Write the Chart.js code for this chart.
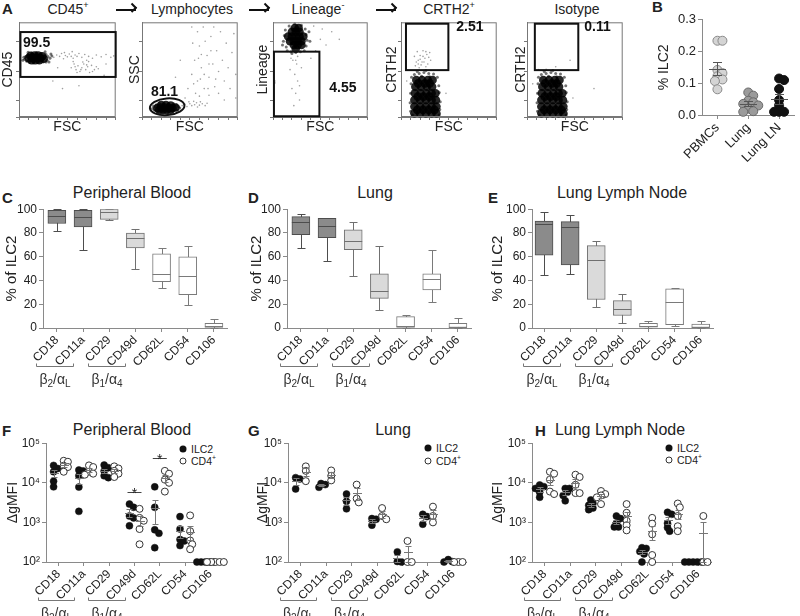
<!DOCTYPE html>
<html>
<head>
<meta charset="utf-8">
<script src="https://cdn.jsdelivr.net/npm/chart.js@4.4.1/dist/chart.umd.min.js"></script>
<style>
body { margin: 0; background: #fff; }
#fig { position: relative; width: 800px; height: 616px; overflow: hidden; font-family: "Liberation Sans", Arial, sans-serif; color: #222; }
#fig canvas { position: absolute; }
.t { position: absolute; transform: translate(-50%, -50%); white-space: nowrap; line-height: 1; }
.lt { position: absolute; transform: translate(0, -50%); font-weight: bold; font-size: 15px; line-height: 1; }
.lg { position: absolute; transform: translate(0, -50%); font-size: 10.5px; line-height: 1; white-space: nowrap; }
.dot { position: absolute; width: 7px; height: 7px; border-radius: 50%; transform: translate(-50%, -50%); box-sizing: border-box; }
.arr { position: absolute; width: 20px; height: 2px; background: #111; transform: translate(-50%, -50%); }
.arr::after { content: ""; position: absolute; right: 0; top: -4px; width: 7px; height: 7px; border-top: 2px solid #111; border-right: 2px solid #111; transform: rotate(45deg); transform-origin: 60% 40%; box-sizing: border-box; }
sup { font-size: 65%; line-height: 0; vertical-align: super; }
</style>
</head>
<body>
<div id="fig">
  <div class="lt" style="left:2px;top:8px">A</div>
  <div class="lt" style="left:652px;top:6px">B</div>
  <div class="lt" style="left:2px;top:197px">C</div>
  <div class="lt" style="left:248px;top:197px">D</div>
  <div class="lt" style="left:488px;top:197px">E</div>
  <div class="lt" style="left:2px;top:430px">F</div>
  <div class="lt" style="left:248px;top:430px">G</div>
  <div class="lt" style="left:535px;top:430px">H</div>

  <div class="t" style="left:68px;top:9px;font-size:14px">CD45<sup>+</sup></div>
  <div class="t" style="left:192px;top:9px;font-size:14px">Lymphocytes</div>
  <div class="t" style="left:318px;top:9px;font-size:14px">Lineage<sup>-</sup></div>
  <div class="t" style="left:449px;top:9px;font-size:14px">CRTH2<sup>+</sup></div>
  <div class="t" style="left:577px;top:9px;font-size:14px">Isotype</div>
  <div class="arr" style="left:126px;top:10px"></div>
  <div class="arr" style="left:259px;top:10px"></div>
  <div class="arr" style="left:386px;top:10px"></div>

  <div class="t" style="left:132px;top:193px;font-size:16px">Peripheral Blood</div>
  <div class="t" style="left:375px;top:193px;font-size:16px">Lung</div>
  <div class="t" style="left:622px;top:193px;font-size:16px">Lung Lymph Node</div>
  <div class="t" style="left:132px;top:430px;font-size:16px">Peripheral Blood</div>
  <div class="t" style="left:393px;top:430px;font-size:16px">Lung</div>
  <div class="t" style="left:620px;top:430px;font-size:16px">Lung Lymph Node</div>

  <div class="dot" style="left:183px;top:449px;background:#111"></div>
  <div class="lg" style="left:191px;top:449px">ILC2</div>
  <div class="dot" style="left:183px;top:461px;border:1px solid #333;background:#fff"></div>
  <div class="lg" style="left:191px;top:461px">CD4<sup>+</sup></div>
  <div class="dot" style="left:428px;top:448px;background:#111"></div>
  <div class="lg" style="left:436px;top:448px">ILC2</div>
  <div class="dot" style="left:428px;top:461px;border:1px solid #333;background:#fff"></div>
  <div class="lg" style="left:436px;top:461px">CD4<sup>+</sup></div>
  <div class="dot" style="left:669px;top:448px;background:#111"></div>
  <div class="lg" style="left:677px;top:448px">ILC2</div>
  <div class="dot" style="left:669px;top:460px;border:1px solid #333;background:#fff"></div>
  <div class="lg" style="left:677px;top:460px">CD4<sup>+</sup></div>
</div>
<script>
// ---------- A: flow plots, values in channel units 0-1000 ----------
const flowXTicks = [0, 100, 200, 300, 400, 500, 600, 700, 800, 900, 1000];
const flowYTicks = [0, 175, 485, 800];

const cd45Core = [[100,620],[140,630],[180,625],[220,620],[255,615],[130,600],[170,600],[210,600],[160,650],[200,648],[240,640],[120,645],[150,615],[195,625]];
const cd45Halo = [[60,610],[70,640],[80,590],[90,660],[290,600],[300,640],[280,580],[280,660],[110,575],[150,570],[200,575],[250,580],[130,675],[180,680],[230,670],[320,620],[340,645],[50,630],[310,580],[330,665],[95,685],[270,690],[40,600]];
const cd45Sparse = [[360,630],[390,655],[420,640],[440,670],[460,615],[480,650],[500,635],[520,665],[540,640],[560,620],[580,655],[600,640],[620,670],[650,630],[680,660],[720,640],[760,620],[800,655],[850,635],[900,660],[950,630],[980,645],[470,680],[550,690],[700,600],
  [540,520],[570,560],[590,500],[610,540],[630,480],[650,520],[670,560],[690,500],[710,530],[730,470],[750,545],[780,500],[800,530],[600,470],[660,580],[720,585],[640,500],[700,550],[580,530],[760,480],[820,510],[560,585],
  [350,380],[620,330],[880,440],[450,300],[900,560],[400,520]];
const cd45Gate = [15, 423, 1000, 897];

const lymCore = [[160,95],[200,100],[240,100],[280,95],[320,95],[350,100],[180,75],[220,75],[260,75],[300,78],[200,125],[250,125],[300,120]];
const lymHalo = [[110,90],[120,115],[130,70],[150,130],[170,55],[220,50],[270,50],[320,60],[370,75],[380,110],[360,130],[330,140],[280,145],[230,148],[180,145],[140,105],[395,95]];
const lymSparse = [[420,120],[450,135],[470,110],[500,140],[520,120],[550,130],[570,150],[600,125],[630,140],[660,120],[680,145],[490,160],[580,105],[540,165],[610,160],
  [480,300],[520,450],[550,600],[580,380],[600,750],[620,520],[650,300],[680,650],[700,420],[720,850],[740,560],[760,320],[780,700],[800,480],[820,900],[840,600],[860,380],[880,780],[900,520],[920,300],[940,680],[960,880],[980,450],[600,220],[700,230],[800,250],[450,200],[520,950],[400,600],[350,420],[300,300],[640,950],[860,180],[980,200],[560,250],[620,660],[660,800],[700,560],[580,900],[750,950],[530,780],[690,300],[610,400],[720,700],[650,450],[770,400],[540,350],[590,620]];
const lymGate = [263, 108, 181, 88];

const linCore = [[180,800],[220,800],[260,800],[300,800],[200,850],[240,850],[280,850],[320,850],[200,900],[240,900],[280,900],[220,760],[260,760],[300,760],[240,720],[160,850],[230,940],[270,940]];
const linHalo = [[110,800],[120,860],[130,920],[140,740],[150,700],[350,870],[360,810],[350,750],[330,700],[190,690],[240,680],[290,690],[170,960],[230,985],[300,970],[380,900],[100,760],[340,930],[390,800],[200,670]];
const linSparse = [[210,600],[250,560],[230,450],[260,380],[200,300],[240,250],[280,180],[220,120],[180,500],[300,520],[260,640],[190,620],[280,330],[240,600],
  [400,620],[450,700],[500,820],[560,760],[620,900],[700,820],[20,360],[20,380],[430,960],[520,930]];
const linGate = [10, 8, 490, 690];

const crthCore = [[140,40],[200,40],[260,40],[320,40],[370,40],[140,110],[200,110],[260,110],[320,110],[370,110],[140,180],[200,180],[260,180],[320,180],[365,180],[145,250],[205,250],[265,250],[320,250],[360,250],[150,320],[210,320],[270,320],[325,320],[160,390],[220,390],[280,390],[330,390],
  [170,75],[230,75],[290,75],[350,75],[175,215],[235,215],[295,215],[180,355],[250,355],[300,355]];
const crthHalo = [[100,60],[95,150],[100,250],[105,350],[110,420],[405,80],[410,160],[400,260],[395,330],[380,420],[140,450],[190,460],[240,470],[290,460],[340,455],[170,480],[260,490],[120,20],[400,20],[215,430],[300,425]];
const crthSparse = [[150,540],[180,600],[200,650],[220,580],[250,620],[280,560],[300,680],[170,690],[230,700],[260,530],[140,640],[310,600],[190,520],[270,660],[210,550],[240,580],[160,580],[290,630],[230,640],[200,610],[260,690],[180,560],[470,250],[60,380]];
const crthGate = [52, 495, 495, 985];

const isoCore = [[150,40],[210,40],[270,40],[330,40],[380,40],[150,110],[210,110],[270,110],[330,110],[380,110],[150,180],[210,180],[270,180],[330,180],[375,180],[155,250],[215,250],[275,250],[330,250],[370,250],[160,320],[220,320],[280,320],[335,320],[170,390],[230,390],[290,390],[340,390],
  [180,75],[240,75],[300,75],[360,75],[185,215],[245,215],[305,215],[190,355],[260,355],[310,355]];
const isoHalo = [[110,60],[105,150],[110,250],[115,350],[120,420],[415,80],[420,160],[410,260],[405,330],[390,420],[150,450],[200,460],[250,470],[300,460],[350,455],[180,480],[270,490],[130,20],[410,20],[225,430],[310,425]];
const isoSparse = [[300,530],[450,600],[700,300],[200,505],[120,500],[480,200],[60,350]];
const isoGate = [82, 495, 536, 985];

// ---------- B: % ILC2 ----------
const bGroups = ['PBMCs', 'Lung', 'Lung LN'];
const bPbmc = [0.234, 0.234, 0.142, 0.132, 0.122, 0.112, 0.107, 0.081];
const bLung = [0.071, 0.061, 0.045, 0.040, 0.035, 0.030, 0.020, 0.012, 0.010];
const bLungLn = [0.115, 0.110, 0.082, 0.047, 0.030, 0.010, 0.010, 0.010];

// ---------- C-E: integrin expression, % of ILC2 (box plots) ----------
const catNames = ['CD18', 'CD11a', 'CD29', 'CD49d', 'CD62L', 'CD54', 'CD106'];
const cMin = [82, 66, 91, 50, 33.5, 19, 0];
const cQ1  = [88, 85, 91.5, 67.5, 39, 28, 0];
const cMed = [94.5, 93.5, 98, 76, 45.5, 44, 1.5];
const cQ3  = [99, 99, 100, 80, 62.5, 60, 4];
const cMax = [100, 100, 100, 83.5, 67.5, 69, 7.4];

const dMin = [67.5, 56, 43.5, 15, 0, 22, 0];
const dQ1  = [78.5, 76, 66, 25, 0, 32, 0];
const dMed = [89, 86, 73, 31, 1.4, 41, 0.5];
const dQ3  = [93.7, 92.3, 82.6, 45.5, 9.6, 45.5, 4];
const dMax = [95.6, 92.8, 89.5, 69, 11, 65.5, 8];

const eMin = [45, 45.5, 18, 4, 0, 2, 0];
const eQ1  = [61.4, 53, 24, 10.5, 0.8, 2.8, 0];
const eMed = [87.3, 84.8, 57.3, 15.7, 2, 22, 0.8];
const eQ3  = [90, 89.5, 69.4, 23, 4, 33, 3.3];
const eMax = [97.8, 95, 73.5, 29, 5.5, 34, 5.5];

// ---------- F-H: delta gMFI, ILC2 vs CD4+ ----------
const logTicks = [100, 1000, 10000, 100000];
const logLabels = ['10\u00B2', '10\u00B3', '10\u2074', '10\u2075'];

const fIlc2 = [[23000,19000,27500,11000,7900],[21000,15000,7800,1900,20000],[28000,20000,15000,13500,24000],[2900,2400,1450,1300,820],[7900,2400,650,530,230],[1400,680,370,340,260],[100,100,100,100,100]];
const fCd4  = [[36000,34000,27000,25000,19000],[27500,25000,19000,17000,16000],[26000,23000,20000,17000,14000],[2200,1300,1100,680,280],[20000,17000,12000,10000,6000],[1500,600,350,280,210],[100,100,100,100,100]];
const fSigCats = [4, 5];
const fSigLevels = [5750, 42400];

const gIlc2 = [[13500,12500,7000],[9600,7700,9000],[5200,3400,2200],[1250,1200,850],[180,103,100],[1600,1400,900],[115,102,100]];
const gCd4  = [[26000,20000,11000],[20500,15000,11500],[9000,4000,3200],[2300,1450,1200],[340,100,100],[2500,1450,1000],[100,100,100]];

const hIlc2 = [[8800,8000,7200,5800,4300],[7200,7200,5800,4800,3500],[3700,3000,2700,2300,2100],[1450,1250,950,770,770],[230,220,185,160,100],[1800,1600,950,740,600],[100,100,100,100,100]];
const hCd4  = [[19000,17000,12000,6000,5200],[16000,14000,8900,5500,5500],[6200,5200,4800,4300,2900],[2900,1750,1100,850,630],[1300,930,500,150,100],[3000,2400,1450,800,600],[1450,100,100]];

const pairCats = [[1, 2], [3, 4]];
const pairLabels = [['\u03B2', '2', '\u03B1', 'L'], ['\u03B2', '1', '\u03B1', '4']];

// ---------- helpers ----------
const FONT = '"Liberation Sans", Arial, sans-serif';
const AX = '#8a8a8a';
Chart.defaults.font.family = FONT;
Chart.defaults.color = '#222';
Chart.defaults.animation = false;
Chart.defaults.plugins.legend.display = false;
Chart.defaults.plugins.tooltip.enabled = false;

const fig = document.getElementById('fig');

// canvas around a wanted plot area [left, top, right, bottom] in page pixels
function place(area, l, t, r, b) {
  const cv = document.createElement('canvas');
  const w = area[2] - area[0] + l + r, h = area[3] - area[1] + t + b;
  cv.width = w; cv.height = h;
  cv.style.left = (area[0] - l) + 'px';
  cv.style.top = (area[1] - t) + 'px';
  cv.style.width = w + 'px'; cv.style.height = h + 'px';
  fig.appendChild(cv);
  return {cv, pad: {top: t, right: r, left: 0, bottom: 0}, yw: l, xh: b};
}

function meanSem(a) {
  const m = a.reduce((s, v) => s + v, 0) / a.length;
  const sd = Math.sqrt(a.reduce((s, v) => s + (v - m) * (v - m), 0) / (a.length - 1));
  return [m, sd / Math.sqrt(a.length)];
}

// beeswarm offsets in pixels
function swarm(vals, toPx, d) {
  const order = vals.map((v, i) => i).sort((a, b) => toPx(vals[a]) - toPx(vals[b]));
  const placed = [], out = vals.map(() => 0);
  order.forEach(i => {
    const y = toPx(vals[i]);
    for (let k = 0; k < 30; k++) {
      const dx = (k % 2 ? 1 : -1) * Math.ceil(k / 2) * d / 2;
      if (placed.every(p => Math.hypot(p.x - dx, p.y - y) >= d - 0.01)) {
        out[i] = dx; placed.push({x: dx, y}); return;
      }
    }
  });
  return out;
}

function swarmX(vals, pos, catPx, toPx, d) {
  const off = swarm(vals, toPx, d);
  return vals.map((v, i) => ({x: pos + off[i] / catPx, y: v}));
}

function errPlugin(groups, halfMean, halfCap, color) {
  return {
    id: 'err',
    afterDatasetsDraw(chart) {
      const {ctx, chartArea: a, scales: {x, y}} = chart;
      ctx.save();
      ctx.strokeStyle = color; ctx.lineWidth = 1;
      const py = v => Math.min(a.bottom, y.getPixelForValue(Math.max(v, 1e-9)));
      groups.forEach(g => {
        const [m, s] = meanSem(g.vals);
        if (s === 0) return;
        const px = Math.round(x.getPixelForValue(g.x)) + 0.5;
        const ym = Math.round(py(m)) + 0.5, yl = Math.round(py(m - s)) + 0.5, yh = Math.round(py(m + s)) + 0.5;
        ctx.beginPath();
        ctx.moveTo(px - halfMean, ym); ctx.lineTo(px + halfMean, ym);
        ctx.moveTo(px, yl); ctx.lineTo(px, yh);
        ctx.moveTo(px - halfCap, yl); ctx.lineTo(px + halfCap, yl);
        ctx.moveTo(px - halfCap, yh); ctx.lineTo(px + halfCap, yh);
        ctx.stroke();
      });
      ctx.restore();
    }
  };
}

function subText(ctx, parts, cx, y, size) {
  const segs = [[parts[0], 0], [parts[1], 1], ['/', 0], [parts[2], 0], [parts[3], 1]];
  const fBase = size + 'px ' + FONT, fSub = Math.round(size * 0.68) + 'px ' + FONT;
  let w = 0;
  segs.forEach(s => { ctx.font = s[1] ? fSub : fBase; w += ctx.measureText(s[0]).width; });
  let xx = cx - w / 2;
  ctx.textAlign = 'left'; ctx.textBaseline = 'alphabetic';
  segs.forEach(s => {
    ctx.font = s[1] ? fSub : fBase;
    ctx.fillText(s[0], xx, y + (s[1] ? size * 0.22 : 0));
    xx += ctx.measureText(s[0]).width;
  });
}

const bracketPlugin = {
  id: 'brk',
  afterDraw(chart) {
    const {ctx, chartArea: a, scales: {x}} = chart;
    ctx.save();
    ctx.strokeStyle = '#777'; ctx.lineWidth = 1; ctx.fillStyle = '#333';
    pairCats.forEach((pc, i) => {
      const l = Math.round(x.getPixelForValue(pc[0]) - 21) + 0.5;
      const r = Math.round(x.getPixelForValue(pc[1]) - 10) + 0.5;
      const yy = Math.round(a.bottom + 38) + 0.5;
      ctx.beginPath();
      ctx.moveTo(l, yy - 3); ctx.lineTo(l, yy); ctx.lineTo(r, yy); ctx.lineTo(r, yy - 3);
      ctx.stroke();
      subText(ctx, pairLabels[i], (l + r) / 2, a.bottom + 56, 14);
    });
    ctx.restore();
  }
};

function catAxis(p, min, max, names, size) {
  return {
    type: 'linear', min, max, offset: false,
    afterFit: s => { s.height = p.xh; },
    afterBuildTicks: s => { s.ticks = names.map((n, i) => ({value: i + 1})); },
    ticks: {callback: v => names[Math.round(v) - 1], minRotation: 45, maxRotation: 45, autoSkip: false, font: {size: size || 12}, padding: 1},
    grid: {drawOnChartArea: false, offset: false, tickLength: 4, color: AX},
    border: {color: AX}
  };
}

// ---------- A ----------
function flowPlot(area, yw, yTitle, core, halo, sparse, gate, isEllipse, label, labelPos) {
  const p = place(area, yw, 2, 3, 19);
  const gatePlugin = {
    id: 'gate',
    afterDatasetsDraw(chart) {
      const {ctx, chartArea: a, scales: {x, y}} = chart;
      ctx.save();
      ctx.strokeStyle = '#777'; ctx.lineWidth = 1;
      ctx.strokeRect(a.left + 0.5, a.top + 0.5, a.right - a.left - 1, a.bottom - a.top - 1);
      ctx.strokeStyle = '#111'; ctx.lineWidth = 2;
      if (isEllipse) {
        const cx = x.getPixelForValue(gate[0]), cy = y.getPixelForValue(gate[1]);
        const rx = x.getPixelForValue(gate[0] + gate[2]) - cx, ry = cy - y.getPixelForValue(gate[1] + gate[3]);
        ctx.beginPath(); ctx.ellipse(cx, cy, rx, ry, -0.08, 0, Math.PI * 2); ctx.stroke();
      } else {
        const x1 = x.getPixelForValue(gate[0]), y1 = y.getPixelForValue(gate[3]);
        const x2 = x.getPixelForValue(gate[2]), y2 = y.getPixelForValue(gate[1]);
        ctx.strokeRect(x1, y1, x2 - x1, y2 - y1);
      }
      ctx.fillStyle = '#111';
      ctx.font = 'bold 14px ' + FONT;
      ctx.textBaseline = 'middle'; ctx.textAlign = 'left';
      ctx.fillText(label, x.getPixelForValue(labelPos[0]), y.getPixelForValue(labelPos[1]));
      ctx.restore();
    }
  };
  new Chart(p.cv, {
    type: 'scatter',
    data: {datasets: [
      {data: sparse, pointRadius: 0.8, backgroundColor: 'rgba(0,0,0,0.38)', borderWidth: 0, clip: false},
      {data: halo, pointRadius: 1.5, backgroundColor: 'rgba(0,0,0,0.55)', borderWidth: 0, clip: false},
      {data: core, pointRadius: 4.3, backgroundColor: 'rgba(0,0,0,0.85)', borderWidth: 0, clip: false}
    ]},
    options: {
      responsive: false, events: [], layout: {padding: p.pad},
      scales: {
        x: {type: 'linear', min: 0, max: 1000,
            afterFit: s => { s.height = p.xh; },
            afterBuildTicks: s => { s.ticks = flowXTicks.map(v => ({value: v})); },
            ticks: {display: false},
            grid: {drawOnChartArea: false, tickLength: 3, color: '#777'},
            border: {color: '#777'},
            title: {display: true, text: 'FSC', font: {size: 14}, padding: 0, color: '#222'}},
        y: {type: 'linear', min: 0, max: 1000,
            afterFit: s => { s.width = p.yw; },
            afterBuildTicks: s => { s.ticks = flowYTicks.map(v => ({value: v})); },
            ticks: {display: false},
            grid: {drawOnChartArea: false, tickLength: 3, color: '#777'},
            border: {color: '#777'},
            title: {display: true, text: yTitle, font: {size: 14}, padding: 0, color: '#222'}}
      }
    },
    plugins: [gatePlugin]
  });
}

flowPlot([19, 20, 117, 117], 19, 'CD45', cd45Core, cd45Halo, cd45Sparse, cd45Gate, false, '99.5', [41, 776]);
flowPlot([142, 20, 239, 117], 15, 'SSC', lymCore, lymHalo, lymSparse, lymGate, true, '81.1', [93, 261]);
flowPlot([273, 20, 369, 117], 18, 'Lineage', linCore, linHalo, linSparse, linGate, false, '4.55', [594, 309]);
flowPlot([401, 20, 498, 117], 17, 'CRTH2', crthCore, crthHalo, crthSparse, crthGate, false, '2.51', [577, 948]);
flowPlot([527, 20, 624, 117], 14, 'CRTH2', isoCore, isoHalo, isoSparse, isoGate, false, '0.11', [598, 948]);

// ---------- B ----------
(function () {
  const p = place([702, 17, 798, 115], 47, 7, 2, 50);
  const toPx = v => -v * 98 / 0.3;
  const sets = [bPbmc, bLung, bLungLn];
  const fills = ['#d4d4d4', '#9b9b9b', '#111'];
  const edges = ['#8a8a8a', '#6a6a6a', '#111'];
  new Chart(p.cv, {
    type: 'scatter',
    data: {datasets: sets.map((vals, i) => ({
      data: swarmX(vals, i + 1, 32, toPx, 5.2),
      pointRadius: 4.5, backgroundColor: fills[i], borderColor: edges[i], borderWidth: 1, clip: false
    }))},
    options: {
      responsive: false, events: [], layout: {padding: p.pad},
      scales: {
        x: catAxis(p, 0.5, 3.5, bGroups, 13),
        y: {min: 0, max: 0.3,
            afterFit: s => { s.width = p.yw; },
            ticks: {stepSize: 0.1, callback: v => v.toFixed(1), font: {size: 13}, padding: 2},
            grid: {drawOnChartArea: false, tickLength: 4, color: AX},
            border: {color: AX},
            title: {display: true, text: '% ILC2', font: {size: 14}, padding: {top: 1, bottom: 0}}}
      }
    },
    plugins: [errPlugin(sets.map((vals, i) => ({x: i + 1, vals})), 8.5, 4.5, '#555')]
  });
})();

// ---------- C-E ----------
const boxFill = ['#8b8b8b', '#8b8b8b', '#dadada', '#dadada', '#ffffff', '#ffffff', '#ffffff'];
const boxEdge = ['#4d4d4d', '#4d4d4d', '#707070', '#707070', '#7a7a7a', '#7a7a7a', '#7a7a7a'];

function boxPlot(area, extL, xMin, xMax, lo, q1, med, q3, hi) {
  const p = place(area, extL, 7, 5, 72);
  const whisk = {
    id: 'whisk',
    beforeDatasetsDraw(chart) {
      const {ctx, scales: {x, y}} = chart;
      ctx.save(); ctx.lineWidth = 1;
      lo.forEach((v, i) => {
        const px = Math.round(x.getPixelForValue(i + 1)) + 0.5;
        const a = Math.round(y.getPixelForValue(v)) + 0.5, b = Math.round(y.getPixelForValue(hi[i])) + 0.5;
        ctx.strokeStyle = boxEdge[i];
        ctx.beginPath();
        ctx.moveTo(px, a); ctx.lineTo(px, b);
        ctx.moveTo(px - 4, a); ctx.lineTo(px + 4, a);
        ctx.moveTo(px - 4, b); ctx.lineTo(px + 4, b);
        ctx.stroke();
      });
      ctx.restore();
    },
    afterDatasetsDraw(chart) {
      const {ctx, scales: {x, y}} = chart;
      ctx.save(); ctx.lineWidth = 1;
      med.forEach((v, i) => {
        const px = x.getPixelForValue(i + 1);
        const m = Math.round(y.getPixelForValue(v)) + 0.5;
        ctx.strokeStyle = boxEdge[i];
        ctx.beginPath(); ctx.moveTo(px - 9, m); ctx.lineTo(px + 9, m); ctx.stroke();
      });
      ctx.restore();
    }
  };
  new Chart(p.cv, {
    type: 'bar',
    data: {datasets: [{
      data: q1.map((v, i) => ({x: i + 1, y: [v, q3[i]]})),
      backgroundColor: boxFill, borderColor: boxEdge, borderWidth: 1, borderSkipped: false,
      barThickness: 18, grouped: false
    }]},
    options: {
      responsive: false, events: [], layout: {padding: p.pad},
      scales: {
        x: catAxis(p, xMin, xMax, catNames),
        y: {min: 0, max: 100,
            afterFit: s => { s.width = p.yw; },
            ticks: {stepSize: 20, font: {size: 12}, padding: 2},
            grid: {drawOnChartArea: false, tickLength: 4, color: AX},
            border: {color: AX},
            title: {display: true, text: '% of ILC2', font: {size: 15}, padding: {top: 3, bottom: 0}}}
      }
    },
    plugins: [whisk, bracketPlugin]
  });
}

boxPlot([43, 207, 227, 328], 43, 0.47, 7.5, cMin, cQ1, cMed, cQ3, cMax);
boxPlot([287, 207, 471, 328], 42, 0.47, 7.5, dMin, dQ1, dMed, dQ3, dMax);
boxPlot([532, 207, 713, 328], 46, 0.54, 7.47, eMin, eQ1, eMed, eQ3, eMax);

// ---------- F-H ----------
function dotPlot(area, extL, ilc, cd4, sigCats, sigLevels) {
  const p = place(area, extL, 7, 5, 54);
  const catPx = (area[2] - area[0]) / 7;
  const toPx = v => -Math.log10(v) * (area[3] - area[1]) / 3;
  const ptsI = [], ptsC = [], groups = [];
  ilc.forEach((vals, i) => { ptsI.push(...swarmX(vals, i + 0.8, catPx, toPx, 4.2)); groups.push({x: i + 0.8, vals}); });
  cd4.forEach((vals, i) => { ptsC.push(...swarmX(vals, i + 1.2, catPx, toPx, 4.2)); groups.push({x: i + 1.2, vals}); });
  const sig = {
    id: 'sig',
    afterDatasetsDraw(chart) {
      const {ctx, scales: {x, y}} = chart;
      ctx.save();
      ctx.strokeStyle = '#444'; ctx.lineWidth = 1; ctx.fillStyle = '#222';
      ctx.font = '14px ' + FONT; ctx.textAlign = 'center'; ctx.textBaseline = 'alphabetic';
      sigCats.forEach((c, i) => {
        const px = x.getPixelForValue(c), py = Math.round(y.getPixelForValue(sigLevels[i])) + 0.5;
        ctx.beginPath(); ctx.moveTo(px - 7, py); ctx.lineTo(px + 7, py); ctx.stroke();
        ctx.fillText('*', px, py + 5);
      });
      ctx.restore();
    }
  };
  new Chart(p.cv, {
    type: 'scatter',
    data: {datasets: [
      {data: ptsC, pointRadius: 3.5, backgroundColor: '#fff', borderColor: '#333', borderWidth: 1, clip: false},
      {data: ptsI, pointRadius: 3.5, backgroundColor: '#111', borderColor: '#111', borderWidth: 0.5, clip: false}
    ]},
    options: {
      responsive: false, events: [], layout: {padding: p.pad},
      scales: {
        x: catAxis(p, 0.5, 7.5, catNames),
        y: {type: 'logarithmic', min: 100, max: 100000,
            afterFit: s => { s.width = p.yw; },
            afterBuildTicks: s => { s.ticks = logTicks.map(v => ({value: v})); },
            ticks: {callback: v => logLabels[logTicks.indexOf(v)], font: {size: 12}, padding: 2},
            grid: {drawOnChartArea: false, tickLength: 4, color: AX},
            border: {color: AX},
            title: {display: true, text: '\u0394gMFI', font: {size: 14}, padding: {top: 5, bottom: 0}}}
      }
    },
    plugins: [errPlugin(groups, 4.5, 3, '#777'), sig, bracketPlugin]
  });
}

dotPlot([46, 441, 223, 562], 46, fIlc2, fCd4, fSigCats, fSigLevels);
dotPlot([288, 441, 466, 562], 38, gIlc2, gCd4, [], []);
dotPlot([532, 441, 711, 562], 47, hIlc2, hCd4, [], []);
</script>
</body>
</html>
